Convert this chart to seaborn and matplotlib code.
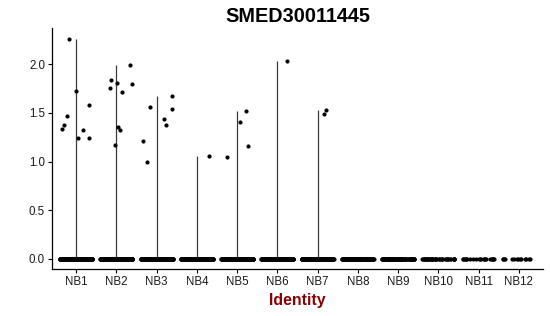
import numpy as np
import pandas as pd
import matplotlib
matplotlib.use("Agg")
import matplotlib.pyplot as plt
import seaborn as sns

# ---- data ----
clusters = ["NB1", "NB2", "NB3", "NB4", "NB5", "NB6",
            "NB7", "NB8", "NB9", "NB10", "NB11", "NB12"]
nb1 = [1.24, 1.33, 2.26, 1.73, 1.58, 1.24, 1.375, 1.47, 1.34]
nb2 = [1.80, 1.99, 1.36, 1.76, 1.32, 1.72, 1.81, 1.84, 1.17]
nb3 = [1.44, 1.54, 1.56, 1.00, 1.67, 1.21, 1.38]
nb4 = [1.06]
nb5 = [1.045, 1.16, 1.525, 1.41]
nb6 = [2.035]
nb7 = [1.49, 1.535]
nonzero = [nb1, nb2, nb3, nb4, nb5, nb6, nb7, [], [], [], [], []]
zero_counts = [400, 380, 350, 300, 280, 250, 230, 150, 90, 45, 22, 14]
y_ticks = [0.0, 0.5, 1.0, 1.5, 2.0]
y_tick_labels = ["0.0", "0.5", "1.0", "1.5", "2.0"]
title = "SMED30011445"
x_label = "Identity"

rows = []
for c, vals, nz in zip(clusters, nonzero, zero_counts):
    for v in vals:
        rows.append((c, v))
    for _ in range(nz):
        rows.append((c, 0.0))
df = pd.DataFrame(rows, columns=["Identity", "expr"])
df["Identity"] = pd.Categorical(df["Identity"], categories=clusters, ordered=True)

sns.set_theme(style="ticks")
plt.rcParams["font.family"] = ["Liberation Sans", "DejaVu Sans"]

fig = plt.figure(figsize=(5.5, 3.16), dpi=100)
ax = fig.add_axes([52 / 550, 47 / 316, (543 - 52) / 550, (269 - 28) / 316])

# thin "violins": vertical lines from 0 to cluster max
maxes = df.groupby("Identity", observed=False)["expr"].max().reindex(clusters)
for i, c in enumerate(clusters):
    m = maxes[c]
    if m > 0:
        ax.vlines(i, 0, m, color="#3a3a3a", linewidth=0.9, zorder=1)

np.random.seed(3)
sns.stripplot(data=df, x="Identity", y="expr", order=clusters, jitter=0.4,
              size=3.0, color="black", linewidth=0, ax=ax, zorder=3)

ax.set_xlim(-0.6, 11.6)
ax.set_ylim(-0.106, 2.375)
ax.set_yticks(y_ticks)
ax.set_yticklabels(y_tick_labels)
sns.despine(ax=ax)
for s in ["left", "bottom"]:
    ax.spines[s].set_linewidth(0.9)
    ax.spines[s].set_color("black")
ax.tick_params(axis="both", length=3, width=0.8, color="black",
               labelsize=8.3, labelcolor="#1a1a1a", pad=2)
ax.set_ylabel("")
ax.set_xlabel(x_label, fontsize=11.4, fontweight="bold", color="#8B0000", labelpad=3.5)
ax.set_title(title, fontsize=14.3, fontweight="bold", color="black", pad=4)

fig.savefig("out.png", dpi=100)
